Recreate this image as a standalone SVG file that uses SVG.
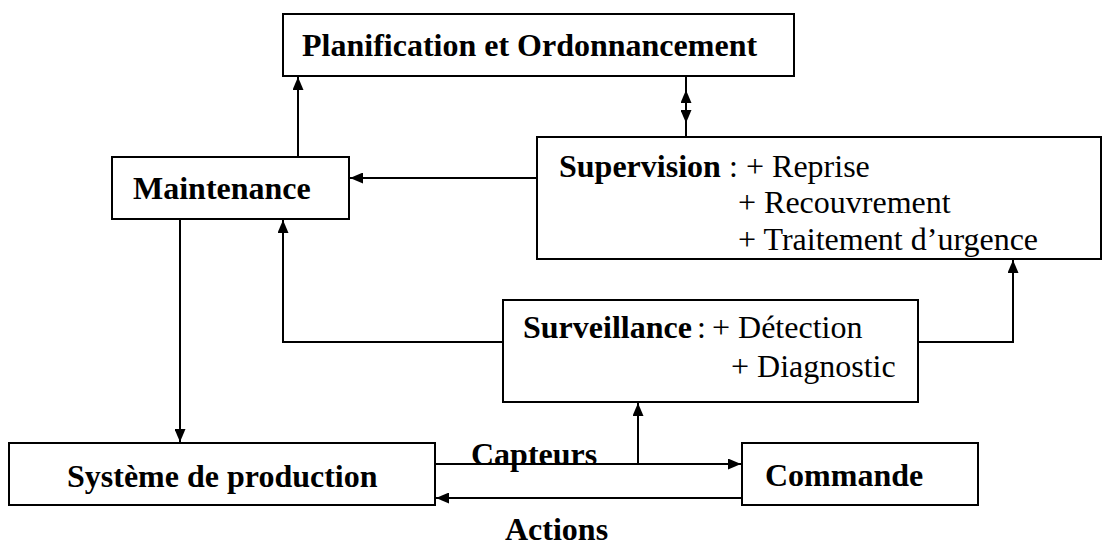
<svg xmlns="http://www.w3.org/2000/svg" width="1109" height="548" viewBox="0 0 1109 548">
<defs>
<style>
.box{fill:#fff;stroke:#000;stroke-width:2}
.b{font-family:"Liberation Serif","Times New Roman",serif;font-weight:bold;font-size:32px;fill:#000}
.r{font-family:"Liberation Serif","Times New Roman",serif;font-size:32px;fill:#000}
.c{fill:none;stroke:#000;stroke-width:2}
</style>
<marker id="ah" viewBox="0 0 13 11" refX="13" refY="5.5" markerWidth="13" markerHeight="11" markerUnits="userSpaceOnUse" orient="auto-start-reverse">
<path d="M0,0 L13,5.5 L0,11 Z" fill="#000"/>
</marker>
<clipPath id="supclip"><rect x="537" y="137" width="564" height="122"/></clipPath>
</defs>
<rect width="1109" height="548" fill="#fff"/>
<g id="planification">
<rect class="box" x="283" y="14" width="511" height="62"/>
<text class="b" x="302" y="56">Planification et Ordonnancement</text>
</g>
<g id="maintenance">
<rect class="box" x="112" y="157" width="237" height="62"/>
<text class="b" x="133" y="199">Maintenance</text>
</g>
<g id="supervision">
<rect class="box" x="537" y="137" width="564" height="122"/>
<g clip-path="url(#supclip)">
<text class="b" x="559" y="177">Supervision</text>
<text class="r" x="729" y="177">:</text>
<text class="r" x="746" y="177">+ Reprise</text>
<text class="r" x="738" y="213">+ Recouvrement</text>
<text class="r" x="738" y="250">+ Traitement d’urgence</text>
</g>
</g>
<g id="surveillance">
<rect class="box" x="503" y="300" width="415" height="102"/>
<text class="b" x="523" y="338">Surveillance</text>
<text class="r" x="697" y="338">:</text>
<text class="r" x="712" y="338">+ Détection</text>
<text class="r" x="731" y="377">+ Diagnostic</text>
</g>
<g id="systeme">
<rect class="box" x="9" y="443" width="426" height="62"/>
<text class="b" x="67" y="487">Système de production</text>
</g>
<g id="commande">
<rect class="box" x="742" y="443" width="236" height="62"/>
<text class="b" x="765" y="486">Commande</text>
</g>
<g id="connectors">
<line class="c" x1="298" y1="157" x2="298" y2="77" marker-end="url(#ah)"/>
<line class="c" x1="686" y1="90" x2="686" y2="123" marker-start="url(#ah)" marker-end="url(#ah)"/>
<path class="c" d="M686,77 V136"/>
<line class="c" x1="537" y1="178" x2="350" y2="178" marker-end="url(#ah)"/>
<path class="c" d="M503,342 H283 V220" marker-end="url(#ah)"/>
<path class="c" d="M918,342 H1013 V260" marker-end="url(#ah)"/>
<line class="c" x1="180" y1="219" x2="180" y2="442" marker-end="url(#ah)"/>
<line class="c" x1="435" y1="464" x2="741" y2="464" marker-end="url(#ah)"/>
<line class="c" x1="638" y1="464" x2="638" y2="403" marker-end="url(#ah)"/>
<line class="c" x1="742" y1="498" x2="436" y2="498" marker-end="url(#ah)"/>
<text class="b" x="471" y="465">Capteurs</text>
<text class="b" x="505" y="540">Actions</text>
</g>
</svg>
